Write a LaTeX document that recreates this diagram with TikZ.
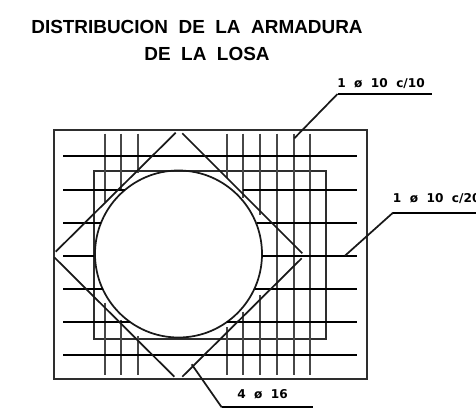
\documentclass[tikz,border=0pt]{standalone}
\usepackage{fontspec}
\setmainfont{Liberation Sans}
\newfontfamily\labfont{DejaVu Sans}
\tikzset{
  px/.style={x=0.75pt,y=-0.75pt},
  hbar/.style={line width=1.5pt,black},
  vbar/.style={line width=1.5pt,black!72},
  diag/.style={line width=1.3pt,black!90},
  frame/.style={line width=1.5pt,black!82},
  leader/.style={line width=1.5pt,black},
  title/.style={font=\fontsize{14.2}{16}\selectfont\bfseries,inner sep=0pt,anchor=base},
  lab/.style={font=\labfont\fontsize{9.1}{10}\selectfont\bfseries,inner sep=0pt,anchor=base west},
}
\begin{document}
\begin{tikzpicture}[px]
\useasboundingbox (0,0) rectangle (476,414);
\fill[white] (0,0) rectangle (476,414);
\node[title] (t1) at (197,33) {DISTRIBUCION\ \ DE\ \ LA\ \ ARMADURA};
\node[title] (t2) at (207,60.5) {DE\ \ LA\ \ LOSA};
\draw[frame] (53.5,130) rectangle (367,379);
\draw[frame] (94.3,339) -- (94.3,171) -- (326,171) -- (326,339) -- cycle;
\draw[diag] (178.5,254) circle (83.5);
% vertical bars
\foreach \x/\a/\b in {105/201.7/302.7,121.3/190/320,138/173/336,227/178/327,243.3/198/311.7,260.3/215/295}{
  \draw[vbar] (\x,133.5) -- (\x,\a);
  \draw[vbar] (\x,\b) -- (\x,375);
}
\foreach \x in {277,293.5,310}{\draw[vbar] (\x,133.5) -- (\x,375);}
% horizontal bars
\foreach \y/\a/\b in {189.7/125/243,222.7/101/257,255.5/94/262,289/103/255,321.7/130/227}{
  \draw[hbar] (63.3,\y) -- (\a,\y);
  \draw[hbar] (\b,\y) -- (357.3,\y);
}
\draw[hbar] (63.3,156.3) -- (357.3,156.3);
\draw[hbar] (63.3,355) -- (357.3,355);
% diamond
\draw[diag] (55.7,251.7) -- (175.7,132.7);
\draw[diag] (182.3,133.3) -- (302.3,253.3);
\draw[diag] (54.3,257.3) -- (174.3,376.7);
\draw[diag] (182.3,376.7) -- (301.7,258.3);
% leaders
\coordinate (a0) at (294.3,138.3); \coordinate (a1) at (337.5,94); \coordinate (a2) at (432,94);
\coordinate (b0) at (345,255.7); \coordinate (b1) at (393,212.7); \coordinate (b2) at (476,212.7);
\coordinate (c0) at (191.7,364.3); \coordinate (c1) at (221.7,407.3); \coordinate (c2) at (313,407.3);
\draw[diag] (a0) -- (a1); \draw[leader] (a1) -- (a2);
\draw[diag] (b0) -- (b1); \draw[leader] (b1) -- (b2);
\draw[diag] (c0) -- (c1); \draw[leader] (c1) -- (c2);
\node[lab] (la) at (337,87.3) {1\ \ ø\ \ 10\ \ c/10};
\node[lab] (lb) at (392.7,202.7) {1\ \ ø\ \ 10\ \ c/20};
\node[lab] (lc) at (237,398) {4\ \ ø\ \ 16};
\end{tikzpicture}
\end{document}
